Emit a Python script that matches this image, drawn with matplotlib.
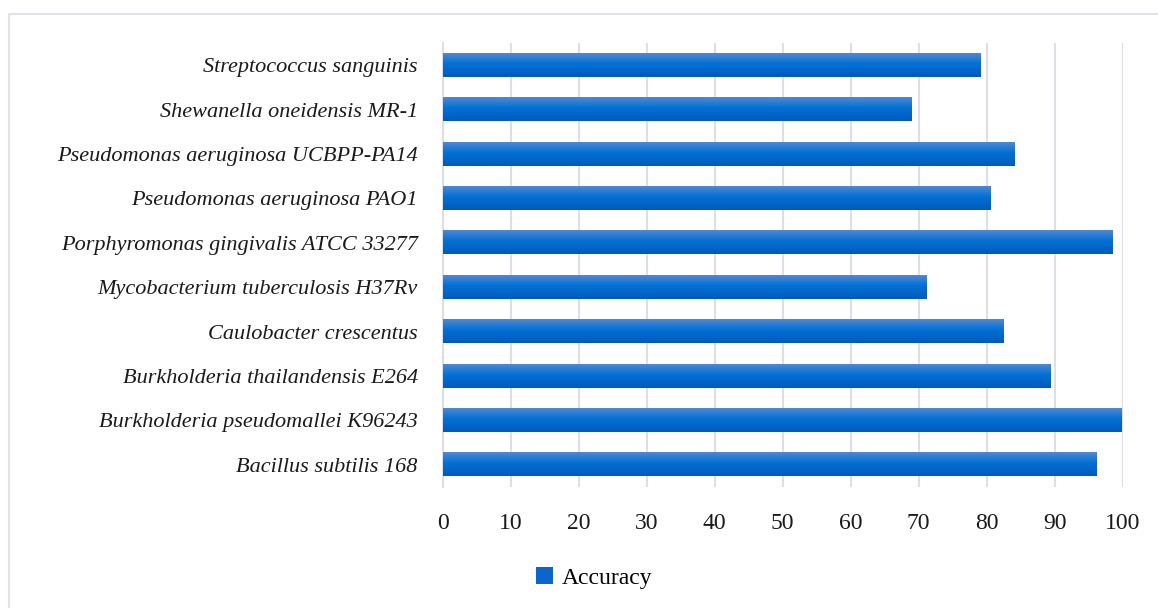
import numpy as np
import matplotlib
matplotlib.use("Agg")
import matplotlib.pyplot as plt
from matplotlib.colors import LinearSegmentedColormap
from matplotlib.patches import Rectangle
from matplotlib.lines import Line2D

# Organisms (bottom to top) and their prediction accuracy
organisms = [
    "Bacillus subtilis 168",
    "Burkholderia pseudomallei K96243",
    "Burkholderia thailandensis E264",
    "Caulobacter crescentus",
    "Mycobacterium tuberculosis H37Rv",
    "Porphyromonas gingivalis ATCC 33277",
    "Pseudomonas aeruginosa PAO1",
    "Pseudomonas aeruginosa UCBPP-PA14",
    "Shewanella oneidensis MR-1",
    "Streptococcus sanguinis",
]
accuracy = [96.1, 99.8, 89.3, 82.5, 71.1, 98.4, 80.5, 84.0, 68.9, 79.0]
x_ticks = [0, 10, 20, 30, 40, 50, 60, 70, 80, 90, 100]
series_name = "Accuracy"

FONT = "Liberation Serif"
FS = 16
GRID = "#dce0e6"

fig = plt.figure(figsize=(11.58, 6.08), dpi=100)
ax = fig.add_axes([442.7 / 1158, 1 - 487 / 608, 680 / 1158, 444 / 608])

# vertical gradient used to shade every bar
grad = LinearSegmentedColormap.from_list(
    "bar", [(0.0, "#005bbd"), (0.55, "#0070d4"), (1.0, "#5088d2")])
gimg = np.linspace(0, 1, 64).reshape(-1, 1)

ypos = np.arange(len(organisms))
bars = ax.barh(ypos, accuracy, height=0.52, color="none", zorder=3)
for r in bars:
    x0, y0 = r.get_x(), r.get_y()
    ax.imshow(gimg, cmap=grad, origin="lower", aspect="auto",
              extent=(x0, x0 + r.get_width(), y0, y0 + r.get_height()),
              zorder=3, interpolation="bilinear")

ax.set_xlim(0, 100)
ax.set_ylim(-0.5, len(organisms) - 0.5)
ax.set_xticks(x_ticks)
ax.set_xticklabels([str(t) for t in x_ticks], fontfamily=FONT, fontsize=17)
ax.set_yticks(ypos)
ax.set_yticklabels(organisms, fontfamily=FONT, fontsize=FS, style="italic")
ax.tick_params(axis="x", length=0, pad=19, colors="#1a1a1a")
ax.tick_params(axis="y", length=0, pad=18, colors="#1a1a1a")
ax.grid(axis="x", color=GRID, linewidth=1.5, zorder=0)
ax.set_axisbelow(True)
for s in ["top", "right", "bottom"]:
    ax.spines[s].set_visible(False)
ax.spines["left"].set_color(GRID)
ax.spines["left"].set_linewidth(1.5)

# legend
handle = Rectangle((0, 0), 1, 1, facecolor="#0a66c8", edgecolor="none")
fig.legend([handle], [series_name], loc="center",
           bbox_to_anchor=(594 / 1158, 1 - 578 / 608), frameon=False,
           prop={"family": FONT, "size": 17}, handlelength=0.75,
           handleheight=0.75, handletextpad=0.35)

# chart-area frame
fig.add_artist(Line2D([8.5 / 1158, 8.5 / 1158, 1.0],
                      [0.0, 1 - 13.5 / 608, 1 - 13.5 / 608],
                      transform=fig.transFigure, color="#dfe3e8", linewidth=1.5))

fig.savefig("out.png", dpi=100, facecolor="white")
